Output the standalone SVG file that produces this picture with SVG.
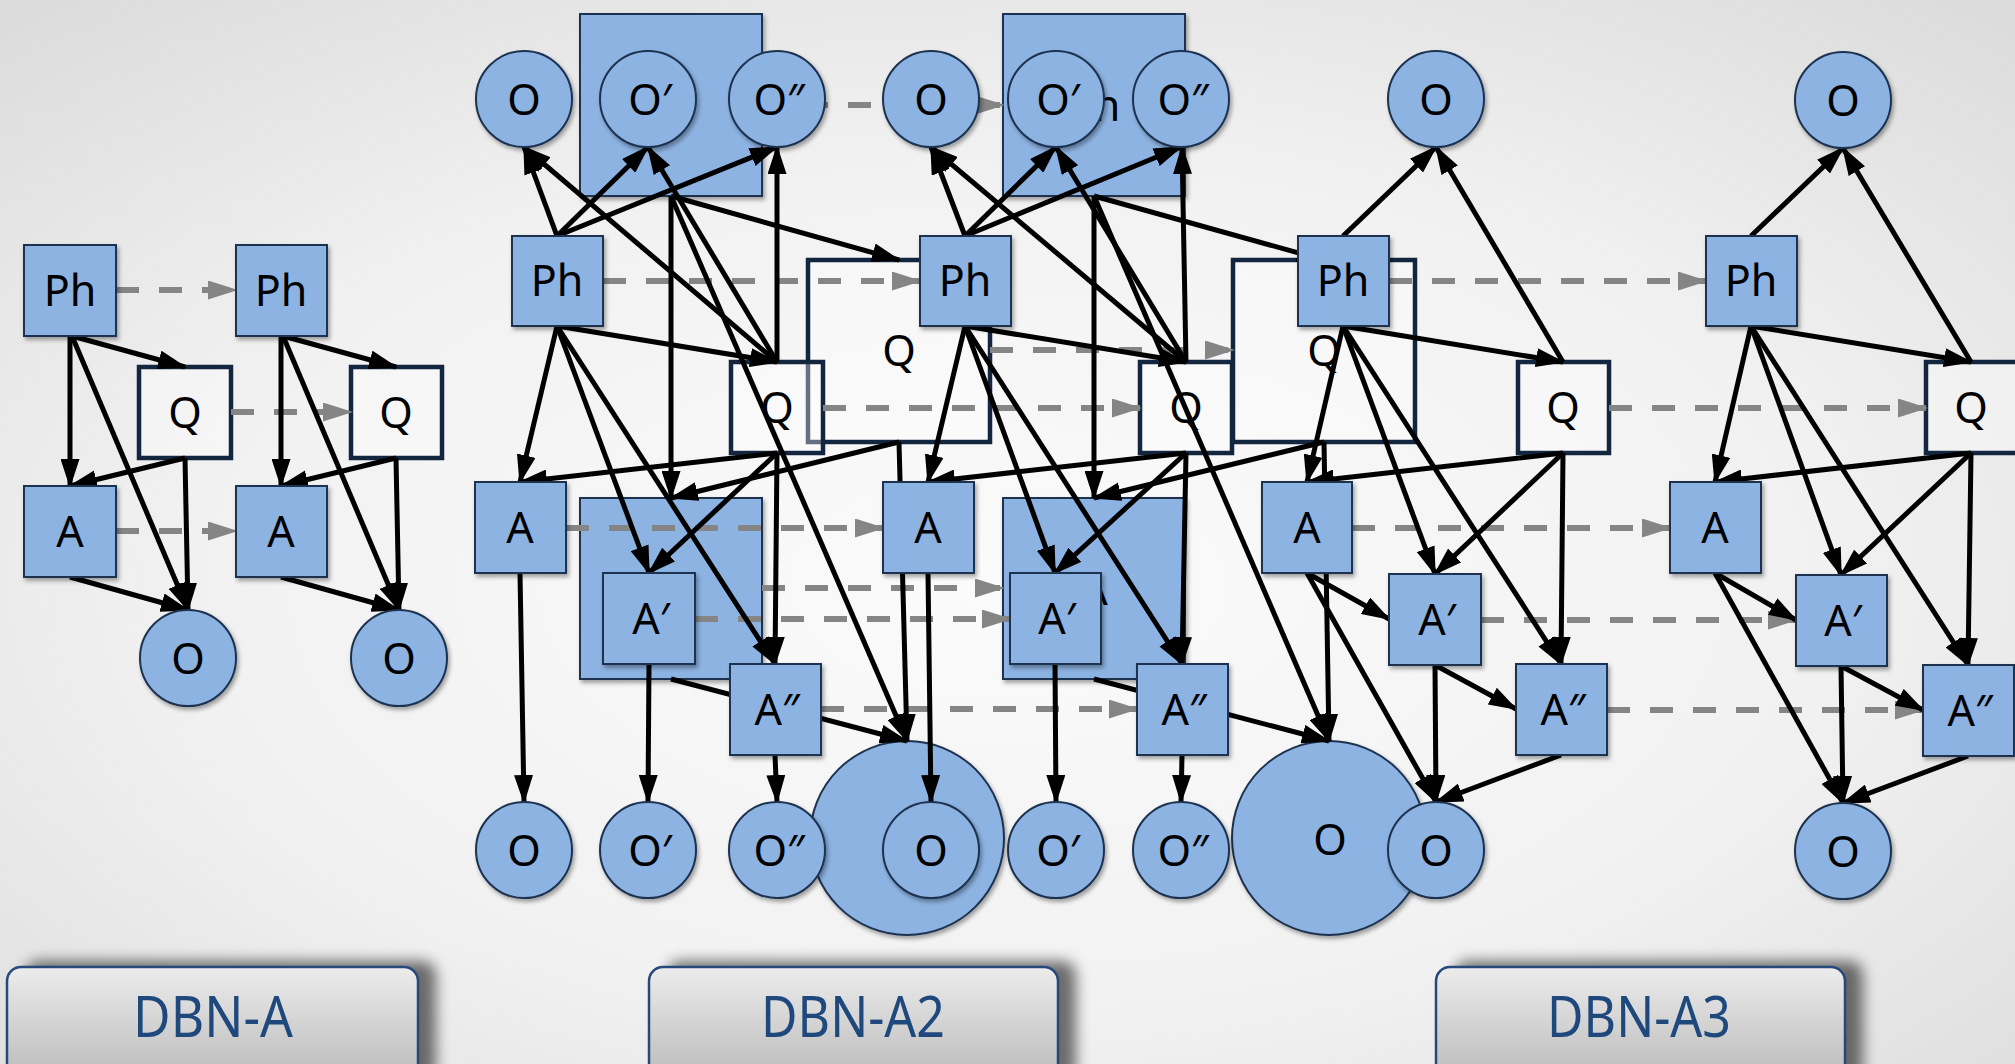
<svg xmlns="http://www.w3.org/2000/svg" width="2015" height="1064" viewBox="0 0 2015 1064">
<defs>
<style>
.bx{fill:#8db3e2;stroke:#1c3250;stroke-width:2;filter:url(#sh)}
.q{fill:#ffffff;fill-opacity:0.35;stroke:#13263f;stroke-width:4.5}
.t{font-family:"Noto Sans","Open Sans","DejaVu Sans",sans-serif;font-size:43px;text-anchor:middle;fill:#000}
.c{stroke:#000;stroke-width:5;fill:none;marker-end:url(#ab)}
.d{stroke:#858585;stroke-width:6;stroke-dasharray:23 20;fill:none;marker-end:url(#ag)}
.btn{fill:url(#bg2);stroke:#24497a;stroke-width:2.5}
.bs{fill:#000;opacity:0.55;filter:url(#bl)}
.bt{font-family:"Noto Sans","Open Sans","DejaVu Sans",sans-serif;font-size:56px;text-anchor:middle;fill:#1f497d}
</style>
<radialGradient id="bg" cx="0.5" cy="0.55" r="0.75">
<stop offset="0" stop-color="#fbfbfb"/>
<stop offset="0.55" stop-color="#f1f1f1"/>
<stop offset="1" stop-color="#dadada"/>
</radialGradient>
<linearGradient id="bg2" x1="0" y1="0" x2="0" y2="1">
<stop offset="0" stop-color="#ececec"/>
<stop offset="1" stop-color="#bcbcbc"/>
</linearGradient>
<filter id="sh" x="-15%" y="-15%" width="135%" height="135%">
<feDropShadow dx="2" dy="3" stdDeviation="2" flood-color="#000" flood-opacity="0.35"/>
</filter>
<filter id="bl" x="-20%" y="-20%" width="140%" height="140%">
<feGaussianBlur stdDeviation="7"/>
</filter>
<marker id="ab" markerUnits="userSpaceOnUse" markerWidth="29" markerHeight="19" viewBox="0 0 29 19" refX="27" refY="9.5" orient="auto">
<path d="M0,0 L29,9.5 L0,19 z" fill="#000"/>
</marker>
<marker id="ag" markerUnits="userSpaceOnUse" markerWidth="30" markerHeight="19" viewBox="0 0 30 19" refX="28" refY="9.5" orient="auto">
<path d="M0,0 L30,9.5 L0,19 z" fill="#858585"/>
</marker>
</defs>
<rect x="0" y="0" width="2015" height="1064" fill="url(#bg)"/>

<g id="btn-dbn-a">
<rect class="bs" x="25" y="961" width="411" height="120" rx="14"/>
<rect class="btn" x="7" y="967" width="411" height="110" rx="14"/>
<text class="bt" x="213" y="1037" textLength="160" lengthAdjust="spacingAndGlyphs">DBN-A</text>
</g>
<g id="btn-dbn-a2">
<rect class="bs" x="667" y="961" width="409" height="120" rx="14"/>
<rect class="btn" x="649" y="967" width="409" height="110" rx="14"/>
<text class="bt" x="853" y="1037" textLength="184" lengthAdjust="spacingAndGlyphs">DBN-A2</text>
</g>
<g id="btn-dbn-a3">
<rect class="bs" x="1454" y="961" width="409" height="120" rx="14"/>
<rect class="btn" x="1436" y="967" width="409" height="110" rx="14"/>
<text class="bt" x="1639" y="1037" textLength="184" lengthAdjust="spacingAndGlyphs">DBN-A3</text>
</g>

<g id="back-nodes">
<g id="S1"><rect class="bx" x="580" y="14" width="182" height="182"/></g>
<g id="S2"><rect class="bx" x="1003" y="14" width="182" height="182"/><text class="t" x="1094" y="121">Ph</text></g>
<g id="S3"><rect class="bx" x="580" y="498" width="182" height="181"/></g>
<g id="S4"><rect class="bx" x="1003" y="498" width="182" height="181"/><text class="t" x="1094" y="605">A</text></g>
<g id="BC1"><circle class="bx" cx="907" cy="838" r="97"/></g>
<g id="BC2"><circle class="bx" cx="1329" cy="838" r="97"/><text class="t" x="1330" y="855">O</text></g>
<g id="Qbig1"><rect class="q" x="808" y="260" width="182" height="182"/><text class="t" x="899" y="366">Q</text></g>
<g id="Qbig2"><rect class="q" x="1233" y="260" width="182" height="182"/><text class="t" x="1324" y="366">Q</text></g>
<g id="Q1"><rect class="q" x="139" y="367" width="92" height="91"/><text class="t" x="185" y="428">Q</text></g>
<g id="Q2"><rect class="q" x="351" y="367" width="91" height="91"/><text class="t" x="396" y="428">Q</text></g>
<g id="Qa"><rect class="q" x="731" y="362" width="92" height="91"/><text class="t" x="777" y="423">Q</text></g>
<g id="Qb"><rect class="q" x="1140" y="362" width="92" height="91"/><text class="t" x="1186" y="423">Q</text></g>
<g id="Qc"><rect class="q" x="1518" y="362" width="91" height="91"/><text class="t" x="1563" y="423">Q</text></g>
<g id="Qd"><rect class="q" x="1926" y="362" width="92" height="91"/><text class="t" x="1971" y="423">Q</text></g>
</g>

<g id="connectors">
<!-- DBN-A -->
<line class="d" x1="116" y1="290" x2="236" y2="290"/>
<line class="d" x1="231" y1="412" x2="351" y2="412"/>
<line class="d" x1="116" y1="531" x2="236" y2="531"/>
<line class="c" x1="70" y1="336" x2="70" y2="486"/>
<line class="c" x1="72" y1="336" x2="185" y2="367"/>
<line class="c" x1="72" y1="336" x2="188" y2="610"/>
<line class="c" x1="185" y1="458" x2="70" y2="486"/>
<line class="c" x1="185" y1="458" x2="188" y2="610"/>
<line class="c" x1="70" y1="577" x2="188" y2="610"/>
<line class="c" x1="281" y1="336" x2="281" y2="486"/>
<line class="c" x1="283" y1="336" x2="396" y2="367"/>
<line class="c" x1="283" y1="336" x2="399" y2="610"/>
<line class="c" x1="396" y1="458" x2="281" y2="486"/>
<line class="c" x1="396" y1="458" x2="399" y2="610"/>
<line class="c" x1="281" y1="577" x2="399" y2="610"/>
<!-- DBN-A2 dashed -->
<line class="d" x1="762" y1="105" x2="1003" y2="105"/>
<line class="d" x1="603" y1="281" x2="920" y2="281"/>
<line class="d" x1="990" y1="350" x2="1233" y2="350"/>
<line class="d" x1="823" y1="408" x2="1140" y2="408"/>
<line class="d" x1="566" y1="528" x2="883" y2="528"/>
<line class="d" x1="762" y1="588" x2="1003" y2="588"/>
<line class="d" x1="695" y1="619" x2="1010" y2="619"/>
<line class="d" x1="821" y1="709" x2="1137" y2="709"/>
<!-- DBN-A2 slice a -->
<line class="c" x1="557" y1="236" x2="524" y2="147"/>
<line class="c" x1="557" y1="236" x2="648" y2="147"/>
<line class="c" x1="557" y1="236" x2="777" y2="147"/>
<line class="c" x1="777" y1="362" x2="524" y2="147"/>
<line class="c" x1="777" y1="362" x2="648" y2="147"/>
<line class="c" x1="777" y1="362" x2="777" y2="147"/>
<line class="c" x1="557" y1="326" x2="777" y2="362"/>
<line class="c" x1="557" y1="326" x2="520" y2="482"/>
<line class="c" x1="557" y1="326" x2="649" y2="573"/>
<line class="c" x1="557" y1="326" x2="775" y2="664"/>
<line class="c" x1="777" y1="453" x2="520" y2="482"/>
<line class="c" x1="777" y1="453" x2="649" y2="573"/>
<line class="c" x1="777" y1="453" x2="775" y2="664"/>
<line class="c" x1="520" y1="573" x2="524" y2="802"/>
<line class="c" x1="649" y1="664" x2="648" y2="802"/>
<line class="c" x1="775" y1="755" x2="777" y2="802"/>
<!-- DBN-A2 slice b -->
<line class="c" x1="965" y1="236" x2="931" y2="147"/>
<line class="c" x1="965" y1="236" x2="1056" y2="147"/>
<line class="c" x1="965" y1="236" x2="1181" y2="147"/>
<line class="c" x1="1186" y1="362" x2="931" y2="147"/>
<line class="c" x1="1186" y1="362" x2="1056" y2="147"/>
<line class="c" x1="1186" y1="362" x2="1182" y2="147"/>
<line class="c" x1="965" y1="326" x2="1186" y2="362"/>
<line class="c" x1="965" y1="326" x2="928" y2="482"/>
<line class="c" x1="965" y1="326" x2="1055" y2="573"/>
<line class="c" x1="965" y1="326" x2="1182" y2="664"/>
<line class="c" x1="1186" y1="453" x2="928" y2="482"/>
<line class="c" x1="1186" y1="453" x2="1055" y2="573"/>
<line class="c" x1="1186" y1="453" x2="1182" y2="664"/>
<line class="c" x1="928" y1="573" x2="931" y2="802"/>
<line class="c" x1="1055" y1="664" x2="1056" y2="802"/>
<line class="c" x1="1182" y1="755" x2="1181" y2="802"/>
<!-- large overlapping structure -->
<line class="c" x1="671" y1="196" x2="671" y2="498"/>
<line class="c" x1="671" y1="196" x2="899" y2="260"/>
<line class="c" x1="671" y1="196" x2="907" y2="741"/>
<line class="c" x1="899" y1="442" x2="671" y2="498"/>
<line class="c" x1="899" y1="442" x2="907" y2="741"/>
<line class="c" x1="671" y1="679" x2="907" y2="741"/>
<line class="c" x1="1094" y1="196" x2="1094" y2="498"/>
<line class="c" x1="1094" y1="196" x2="1324" y2="260"/>
<line class="c" x1="1094" y1="196" x2="1329" y2="741"/>
<line class="c" x1="1324" y1="442" x2="1094" y2="498"/>
<line class="c" x1="1324" y1="442" x2="1329" y2="741"/>
<line class="c" x1="1094" y1="679" x2="1329" y2="741"/>
<!-- DBN-A3 dashed -->
<line class="d" x1="1389" y1="281" x2="1706" y2="281"/>
<line class="d" x1="1609" y1="408" x2="1926" y2="408"/>
<line class="d" x1="1352" y1="528" x2="1670" y2="528"/>
<line class="d" x1="1481" y1="620" x2="1796" y2="620"/>
<line class="d" x1="1607" y1="710" x2="1923" y2="710"/>
<!-- DBN-A3 slice c -->
<line class="c" x1="1343" y1="236" x2="1436" y2="147"/>
<line class="c" x1="1563" y1="362" x2="1436" y2="147"/>
<line class="c" x1="1343" y1="326" x2="1563" y2="362"/>
<line class="c" x1="1343" y1="326" x2="1307" y2="482"/>
<line class="c" x1="1343" y1="326" x2="1435" y2="574"/>
<line class="c" x1="1343" y1="326" x2="1561" y2="664"/>
<line class="c" x1="1563" y1="453" x2="1307" y2="482"/>
<line class="c" x1="1563" y1="453" x2="1435" y2="574"/>
<line class="c" x1="1563" y1="453" x2="1561" y2="664"/>
<line class="c" x1="1307" y1="573" x2="1389" y2="619"/>
<line class="c" x1="1307" y1="573" x2="1436" y2="802"/>
<line class="c" x1="1435" y1="665" x2="1436" y2="802"/>
<line class="c" x1="1435" y1="665" x2="1516" y2="709"/>
<line class="c" x1="1561" y1="755" x2="1436" y2="802"/>
<!-- DBN-A3 slice d -->
<line class="c" x1="1751" y1="236" x2="1843" y2="148"/>
<line class="c" x1="1971" y1="362" x2="1843" y2="148"/>
<line class="c" x1="1751" y1="326" x2="1971" y2="362"/>
<line class="c" x1="1751" y1="326" x2="1715" y2="482"/>
<line class="c" x1="1751" y1="326" x2="1841" y2="575"/>
<line class="c" x1="1751" y1="326" x2="1968" y2="665"/>
<line class="c" x1="1971" y1="453" x2="1715" y2="482"/>
<line class="c" x1="1971" y1="453" x2="1841" y2="575"/>
<line class="c" x1="1971" y1="453" x2="1968" y2="665"/>
<line class="c" x1="1715" y1="573" x2="1796" y2="620"/>
<line class="c" x1="1715" y1="573" x2="1843" y2="803"/>
<line class="c" x1="1841" y1="666" x2="1843" y2="803"/>
<line class="c" x1="1841" y1="666" x2="1923" y2="710"/>
<line class="c" x1="1968" y1="756" x2="1843" y2="803"/>
</g>

<g id="front-nodes">
<g id="Ph1"><rect class="bx" x="24" y="245" width="92" height="91"/><text class="t" x="70" y="306">Ph</text></g>
<g id="Ph2"><rect class="bx" x="236" y="245" width="91" height="91"/><text class="t" x="281" y="306">Ph</text></g>
<g id="A1"><rect class="bx" x="24" y="486" width="92" height="91"/><text class="t" x="70" y="547">A</text></g>
<g id="A2"><rect class="bx" x="236" y="486" width="91" height="91"/><text class="t" x="281" y="547">A</text></g>
<g id="O1"><circle class="bx" cx="188" cy="658" r="48"/><text class="t" x="188" y="674">O</text></g>
<g id="O2"><circle class="bx" cx="399" cy="658" r="48"/><text class="t" x="399" y="674">O</text></g>

<g id="Ot-a"><circle class="bx" cx="524" cy="99" r="48"/><text class="t" x="524" y="115">O</text></g>
<g id="Ot-a1"><circle class="bx" cx="648" cy="99" r="48"/><text class="t" x="650" y="115">O′</text></g>
<g id="Ot-a2"><circle class="bx" cx="777" cy="99" r="48"/><text class="t" x="779" y="115">O″</text></g>
<g id="Ot-b"><circle class="bx" cx="931" cy="99" r="48"/><text class="t" x="931" y="115">O</text></g>
<g id="Ot-b1"><circle class="bx" cx="1056" cy="99" r="48"/><text class="t" x="1058" y="115">O′</text></g>
<g id="Ot-b2"><circle class="bx" cx="1181" cy="99" r="48"/><text class="t" x="1183" y="115">O″</text></g>
<g id="Ot-c"><circle class="bx" cx="1436" cy="99" r="48"/><text class="t" x="1436" y="115">O</text></g>
<g id="Ot-d"><circle class="bx" cx="1843" cy="100" r="48"/><text class="t" x="1843" y="116">O</text></g>

<g id="Ph-a"><rect class="bx" x="512" y="236" width="91" height="90"/><text class="t" x="557" y="296">Ph</text></g>
<g id="Ph-b"><rect class="bx" x="920" y="236" width="91" height="90"/><text class="t" x="965" y="296">Ph</text></g>
<g id="Ph-c"><rect class="bx" x="1298" y="236" width="91" height="90"/><text class="t" x="1343" y="296">Ph</text></g>
<g id="Ph-d"><rect class="bx" x="1706" y="236" width="91" height="90"/><text class="t" x="1751" y="296">Ph</text></g>

<g id="A-a"><rect class="bx" x="475" y="482" width="91" height="91"/><text class="t" x="520" y="543">A</text></g>
<g id="A-b"><rect class="bx" x="883" y="482" width="91" height="91"/><text class="t" x="928" y="543">A</text></g>
<g id="A-c"><rect class="bx" x="1262" y="482" width="90" height="91"/><text class="t" x="1307" y="543">A</text></g>
<g id="A-d"><rect class="bx" x="1670" y="482" width="91" height="91"/><text class="t" x="1715" y="543">A</text></g>

<g id="A1-a"><rect class="bx" x="603" y="573" width="92" height="91"/><text class="t" x="651" y="634">A′</text></g>
<g id="A1-b"><rect class="bx" x="1010" y="573" width="91" height="91"/><text class="t" x="1057" y="634">A′</text></g>
<g id="A1-c"><rect class="bx" x="1389" y="574" width="92" height="91"/><text class="t" x="1437" y="635">A′</text></g>
<g id="A1-d"><rect class="bx" x="1796" y="575" width="91" height="91"/><text class="t" x="1843" y="636">A′</text></g>

<g id="A2-a"><rect class="bx" x="730" y="664" width="91" height="91"/><text class="t" x="777" y="725">A″</text></g>
<g id="A2-b"><rect class="bx" x="1137" y="664" width="91" height="91"/><text class="t" x="1184" y="725">A″</text></g>
<g id="A2-c"><rect class="bx" x="1516" y="664" width="91" height="91"/><text class="t" x="1563" y="725">A″</text></g>
<g id="A2-d"><rect class="bx" x="1923" y="665" width="91" height="91"/><text class="t" x="1970" y="726">A″</text></g>

<g id="Ob-a"><circle class="bx" cx="524" cy="850" r="48"/><text class="t" x="524" y="866">O</text></g>
<g id="Ob-a1"><circle class="bx" cx="648" cy="850" r="48"/><text class="t" x="650" y="866">O′</text></g>
<g id="Ob-a2"><circle class="bx" cx="777" cy="850" r="48"/><text class="t" x="779" y="866">O″</text></g>
<g id="Ob-b"><circle class="bx" cx="931" cy="850" r="48"/><text class="t" x="931" y="866">O</text></g>
<g id="Ob-b1"><circle class="bx" cx="1056" cy="850" r="48"/><text class="t" x="1058" y="866">O′</text></g>
<g id="Ob-b2"><circle class="bx" cx="1181" cy="850" r="48"/><text class="t" x="1183" y="866">O″</text></g>
<g id="Ob-c"><circle class="bx" cx="1436" cy="850" r="48"/><text class="t" x="1436" y="866">O</text></g>
<g id="Ob-d"><circle class="bx" cx="1843" cy="851" r="48"/><text class="t" x="1843" y="867">O</text></g>
</g>
</svg>
